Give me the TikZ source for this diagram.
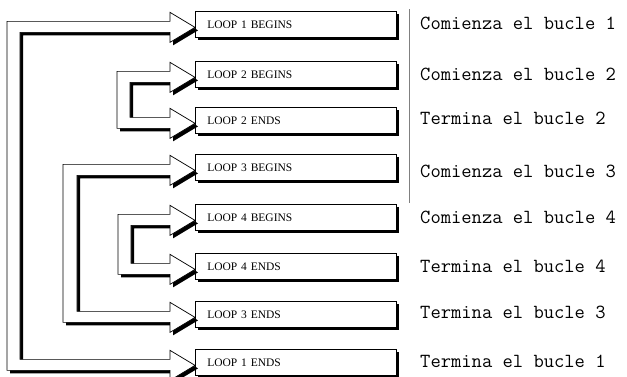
\documentclass[tikz,border=0pt]{standalone}
\usepackage{fontspec}
\setmainfont{Liberation Serif}
\usetikzlibrary{calc,shadows}
\tikzset{
  loopbox/.style={draw=black, line width=0.7pt, fill=white, anchor=north west,
    minimum height=26pt, text width=177pt, inner xsep=12pt, inner ysep=0pt, align=left,
    font=\fontsize{11.5}{13}\selectfont,
    drop shadow={shadow xshift=3pt, shadow yshift=-3pt, opacity=1, fill=black}},
  note/.style={anchor=west, inner sep=0pt, font=\ttfamily\fontsize{20}{22}\selectfont},
  shadowfill/.style={fill=black},
  arrowfill/.style={fill=white, draw=black, line width=0.7pt, line join=miter}
}
% #1 begin node, #2 end node, #3 outer x, #4 band width, #5 dx, #6 dy (downwards)
\newcommand\loopshape[6]{%
  let \p1=(#1.west), \p2=(#2.west) in
  (\x1+#5,\y1-3pt-#6) -- (\x1-25pt+#5,\y1+12pt-#6) -- (\x1-25pt+#5,\y1+3pt-#6)
  -- (#3+#5,\y1+3pt-#6) -- (#3+#5,\y2-8pt-#6) -- (\x2-25pt+#5,\y2-8pt-#6)
  -- (\x2-25pt+#5,\y2-18pt-#6) -- (\x2+#5,\y2-3pt-#6) -- (\x2-25pt+#5,\y2+12pt-#6)
  -- (\x2-25pt+#5,\y2+3pt-#6) -- (#3+#4+#5,\y2+3pt-#6) -- (#3+#4+#5,\y1-8pt-#6)
  -- (\x1-25pt+#5,\y1-8pt-#6) -- (\x1-25pt+#5,\y1-18pt-#6) -- cycle}
\newcommand\hollowloop[4]{%
  \fill[shadowfill] \loopshape{#1}{#2}{#3}{#4}{3pt}{3pt};
  \filldraw[arrowfill] \loopshape{#1}{#2}{#3}{#4}{0pt}{0pt};}
\begin{document}
\begin{tikzpicture}[x=1pt,y=-1pt]
\useasboundingbox[fill=white] (0,0) rectangle (627,376);
% boxes
\node[loopbox] (b1) at (195,11)  {LOOP 1 BEGINS};
\node[loopbox] (b2) at (195,61)  {LOOP 2 BEGINS};
\node[loopbox] (b3) at (195,107) {LOOP 2 ENDS};
\node[loopbox] (b4) at (195,154) {LOOP 3 BEGINS};
\node[loopbox] (b5) at (195,204) {LOOP 4 BEGINS};
\node[loopbox] (b6) at (195,253) {LOOP 4 ENDS};
\node[loopbox] (b7) at (195,301) {LOOP 3 ENDS};
\node[loopbox] (b8) at (195,349) {LOOP 1 ENDS};
% hollow loop arrows
\hollowloop{b1}{b8}{7pt}{13pt}
\hollowloop{b4}{b7}{63pt}{14pt}
\hollowloop{b2}{b3}{117pt}{13pt}
\hollowloop{b5}{b6}{118pt}{13pt}
% separator line
\coordinate (s1) at (409,9);
\coordinate (s2) at (409,203);
\draw[gray, line width=0.5pt] (s1) -- (s2);
% notes
\node[note] (t1) at (420,23)  {Comienza el bucle 1};
\node[note] (t2) at (420,74)  {Comienza el bucle 2};
\node[note] (t3) at (420,118) {Termina el bucle 2};
\node[note] (t4) at (420,171) {Comienza el bucle 3};
\node[note] (t5) at (420,217) {Comienza el bucle 4};
\node[note] (t6) at (420,266) {Termina el bucle 4};
\node[note] (t7) at (420,312) {Termina el bucle 3};
\node[note] (t8) at (420,361) {Termina el bucle 1};
\end{tikzpicture}
\end{document}
